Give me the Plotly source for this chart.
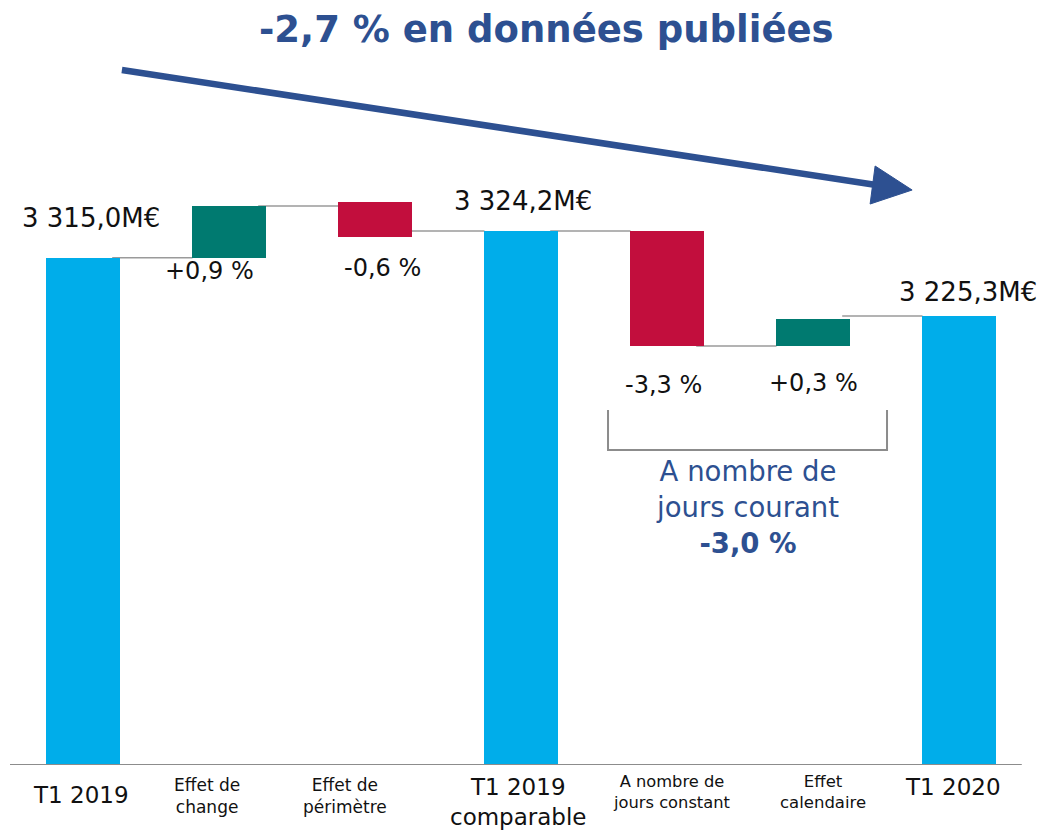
import plotly.graph_objects as go

# ---- data (levels as drawn in the chart, M€ scale) ----
categories = ["T1 2019", "Effet de change", "Effet de périmètre", "T1 2019 comparable",
              "A nombre de jours constant", "Effet calendaire", "T1 2020"]
cat_labels = ["T1 2019", "Effet de<br>change", "Effet de<br>périmètre", "T1 2019<br>comparable",
              "A nombre de<br>jours constant", "Effet<br>calendaire", "T1 2020"]
measures = ["total", "relative", "relative", "total", "relative", "relative", "total"]
bar_start = [0, 3315, 3680, 0, 3490, 2739, 0]
bar_end = [3315, 3654, 3451, 3490, 2739, 2915, 2935]
value_labels = ["3 315,0M€", "+0,9 %", "-0,6 %", "3 324,2M€", "-3,3 %", "+0,3 %", "3 225,3M€"]
title_text = "-2,7 % en données publiées"
bracket_text = ["A nombre de", "jours courant", "-3,0 %"]

BLUE = "#00ADEA"
GREEN = "#007A70"
RED = "#C20E3D"
NAVY = "#2D5091"
GRAY = "#9A9A9A"
FONT = "DejaVu Sans"

x = list(range(len(categories)))
colors = []
for m, s, e in zip(measures, bar_start, bar_end):
    if m == "total":
        colors.append(BLUE)
    else:
        colors.append(GREEN if e > s else RED)

fig = go.Figure()
fig.add_trace(go.Bar(
    x=x,
    y=[e - s for s, e in zip(bar_start, bar_end)],
    base=bar_start,
    width=0.507,
    marker=dict(color=colors, line=dict(width=0)),
    hoverinfo="skip",
    showlegend=False,
))

shapes = []
# connectors
for i in range(len(x) - 1):
    level = bar_end[i + 1] if measures[i + 1] == "total" else bar_end[i]
    shapes.append(dict(type="line", xref="x", yref="y", x0=i + 0.2, x1=i + 0.75,
                       y0=level, y1=level, line=dict(color=GRAY, width=1.5), layer="below"))
# baseline
shapes.append(dict(type="line", xref="paper", yref="y", x0=0, x1=0.99, y0=0, y1=0,
                   line=dict(color="#8C8C8C", width=2)))
# bracket
shapes.append(dict(type="path", xref="x", yref="y",
                   path="M 3.596,2320 L 3.596,2059 L 5.507,2059 L 5.507,2320",
                   line=dict(color="#8C8C8C", width=2)))
# big arrow
shapes.append(dict(type="line", xref="paper", yref="paper", x0=0.1095, y0=0.9085,
                   x1=0.8460, y1=0.7585, line=dict(color=NAVY, width=6.5)))
shapes.append(dict(type="path", xref="paper", yref="paper",
                   path="M 0.8465,0.7830 L 0.8827,0.7516 L 0.8416,0.7333 Z",
                   fillcolor=NAVY, line=dict(color=NAVY, width=1)))

annotations = []
# value labels
for i, (lab, m, s, e) in enumerate(zip(value_labels, measures, bar_start, bar_end)):
    if m == "total":
        dx = {0: 8, 3: 2, 6: 9}[i]
        dy = {0: 40, 3: 30, 6: 24}[i]
        annotations.append(dict(x=i, y=e, xref="x", yref="y", text=lab, showarrow=False,
                                xshift=dx, yshift=dy, font=dict(family=FONT, size=26, color="#111111")))
    else:
        low = min(s, e)
        dx = {1: -20, 2: 7, 4: -4, 5: 0}[i]
        dy = {1: -13, 2: -31, 4: -39, 5: -37}[i]
        annotations.append(dict(x=i, y=low, xref="x", yref="y", text=lab, showarrow=False,
                                xshift=dx, yshift=dy, font=dict(family=FONT, size=24, color="#111111")))

# category labels
lab_dx = [-2, -22, -30, -3, 4, 10, -6]
lab_dy = [-30, -31, -31, -37, -27, -27, -22]
lab_size = [23, 17, 17, 23, 16.3, 16.5, 23]
for i, lab in enumerate(cat_labels):
    annotations.append(dict(x=i, y=0, xref="x", yref="y", text=lab, showarrow=False,
                            xshift=lab_dx[i], yshift=lab_dy[i],
                            font=dict(family=FONT, size=lab_size[i], color="#111111"),
                            align="center"))

# bracket text
annotations.append(dict(x=4.55, y=1686, xref="x", yref="y",
                        text=bracket_text[0] + "<br>" + bracket_text[1] + "<br><b>" + bracket_text[2] + "</b>",
                        showarrow=False, align="center",
                        font=dict(family=FONT, size=27.5, color=NAVY)))

# title
annotations.append(dict(x=0.525, y=0.961, xref="paper", yref="paper", text="<b>" + title_text + "</b>",
                        showarrow=False, yanchor="middle", xanchor="center",
                        font=dict(family=FONT, size=37, color=NAVY)))

fig.update_layout(
    width=1053, height=836,
    margin=dict(l=10, r=21, t=0, b=71),
    paper_bgcolor="white", plot_bgcolor="white",
    xaxis=dict(range=[-0.5, 6.5], visible=False, fixedrange=True),
    yaxis=dict(range=[0, 5000], visible=False, fixedrange=True),
    shapes=shapes, annotations=annotations,
    bargap=0,
    hovermode=False,
)

fig.write_html("out.html", config={"displayModeBar": False, "staticPlot": True},
               post_script="document.body.style.margin='0';document.body.style.overflow='hidden';")
